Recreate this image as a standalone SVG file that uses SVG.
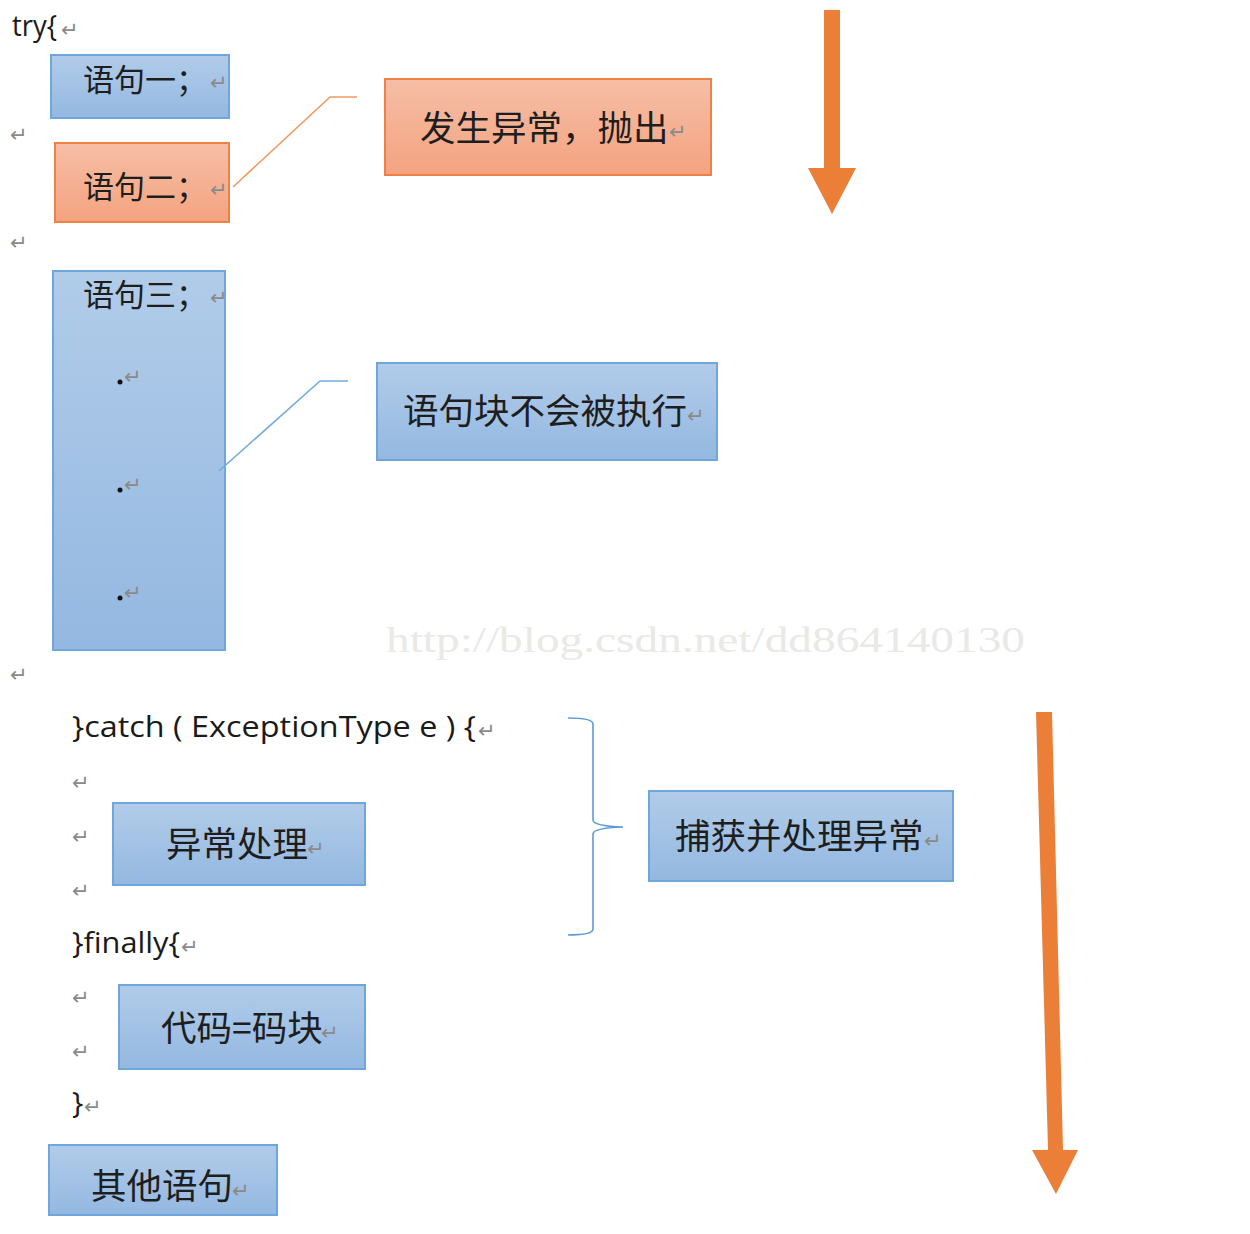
<svg xmlns="http://www.w3.org/2000/svg" width="1250" height="1234" viewBox="0 0 1250 1234">
  <defs>
    <linearGradient id="blueFill" x1="0" y1="0" x2="0" y2="1">
      <stop offset="0" stop-color="#b1cce9"/>
      <stop offset="1" stop-color="#94b8e1"/>
    </linearGradient>
    <linearGradient id="orangeFill" x1="0" y1="0" x2="0" y2="1">
      <stop offset="0" stop-color="#f6bea6"/>
      <stop offset="1" stop-color="#f4a380"/>
    </linearGradient>
    <style>
      .blue { fill: url(#blueFill); stroke: #6fa6dc; stroke-width: 2; }
      .orange { fill: url(#orangeFill); stroke: #ee8245; stroke-width: 2; }
      .code { font-family: "Open Sans", "Liberation Sans", "Noto Sans CJK SC", sans-serif; font-size: 30px; fill: #1a1a1a; }
      .cjk { font-family: "Noto Sans CJK SC", sans-serif; fill: #1e1e1e; }
      .big { font-size: 35.5px; }
      .mid { font-size: 31px; }
      .ret { font-family: "DejaVu Sans", "Noto Sans CJK SC", sans-serif; font-size: 21px; fill: #8a8a8a; }
      .callout { fill: none; stroke-width: 1.6; }
      .arrow { fill: #ec7f38; }
    </style>
  </defs>

  <!-- plain code lines and paragraph marks -->
  <g id="code-lines">
    <text class="code" x="12" y="36" textLength="45" lengthAdjust="spacingAndGlyphs">try{</text>
    <text class="ret" x="61" y="37">↵</text>
    <text class="ret" x="10" y="142">↵</text>
    <text class="ret" x="10" y="250">↵</text>
    <text class="ret" x="10" y="682">↵</text>
    <text class="code" x="72" y="737" textLength="404" lengthAdjust="spacingAndGlyphs">}catch ( ExceptionType e ) {</text>
    <text class="ret" x="478" y="738">↵</text>
    <text class="ret" x="72" y="790">↵</text>
    <text class="ret" x="72" y="844">↵</text>
    <text class="ret" x="72" y="898">↵</text>
    <text class="code" x="72" y="953" textLength="108" lengthAdjust="spacingAndGlyphs">}finally{</text>
    <text class="ret" x="181" y="954">↵</text>
    <text class="ret" x="72" y="1005">↵</text>
    <text class="ret" x="72" y="1059">↵</text>
    <text class="code" x="72" y="1113">}</text>
    <text class="ret" x="84" y="1114">↵</text>
  </g>

  <g id="stmt1">
    <rect class="blue" x="51" y="55" width="178" height="63"/>
    <text class="cjk mid" x="83" y="91">语句一；</text>
    <text class="ret" x="210" y="90">↵</text>
  </g>

  <g id="stmt2">
    <rect class="orange" x="55" y="143" width="174" height="79"/>
    <text class="cjk mid" x="83" y="198">语句二；</text>
    <text class="ret" x="210" y="197">↵</text>
  </g>

  <g id="stmt3">
    <rect class="blue" x="53" y="271" width="172" height="379"/>
    <text class="cjk mid" x="83" y="306">语句三；</text>
    <text class="ret" x="210" y="305">↵</text>
    <circle cx="120" cy="382" r="2.5" fill="#111"/>
    <text class="ret" x="124" y="384">↵</text>
    <circle cx="120" cy="490" r="2.5" fill="#111"/>
    <text class="ret" x="124" y="492">↵</text>
    <circle cx="120" cy="598" r="2.5" fill="#111"/>
    <text class="ret" x="124" y="600">↵</text>
  </g>

  <g id="thrown">
    <rect class="orange" x="385" y="79" width="326" height="96"/>
    <text class="cjk big" x="420" y="141">发生异常，抛出</text>
    <text class="ret" x="669" y="139">↵</text>
  </g>

  <g id="skipped">
    <rect class="blue" x="377" y="363" width="340" height="97"/>
    <text class="cjk big" x="403" y="424">语句块不会被执行</text>
    <text class="ret" x="687" y="423">↵</text>
  </g>

  <g id="handler">
    <rect class="blue" x="113" y="803" width="252" height="82"/>
    <text class="cjk big" x="166" y="857">异常处理</text>
    <text class="ret" x="307" y="856">↵</text>
  </g>

  <g id="catch-note">
    <rect class="blue" x="649" y="791" width="304" height="90"/>
    <text class="cjk big" x="675" y="849">捕获并处理异常</text>
    <text class="ret" x="924" y="848">↵</text>
  </g>

  <g id="finally-block">
    <rect class="blue" x="119" y="985" width="246" height="84"/>
    <text class="cjk big" x="161" y="1041">代码=码块</text>
    <text class="ret" x="321" y="1040">↵</text>
  </g>

  <g id="other">
    <rect class="blue" x="49" y="1145" width="228" height="70"/>
    <text class="cjk big" x="91" y="1199">其他语句</text>
    <text class="ret" x="232" y="1198">↵</text>
  </g>

  <!-- callout lines, brace and flow arrows -->
  <g id="connectors">
    <polyline class="callout" stroke="#f19a62" points="233,187 330,97 357,97"/>
    <polyline class="callout" stroke="#74abdf" points="219,471 320,381 348,381"/>
    <path class="callout" stroke="#5b9bd5" stroke-width="2"
          d="M568,718 Q593,718 593,724 L593,820 Q593,826 623,827 Q593,828 593,834 L593,929 Q593,935 568,935"/>
    <polygon class="arrow" points="824,10 840,10 840,168 856,168 832,214 808,168 824,168"/>
    <polygon class="arrow" points="1036,712 1052,712 1063,1150 1078,1150 1056,1194 1032,1150 1048,1150"/>
  </g>

  <text x="386" y="652" textLength="639" lengthAdjust="spacingAndGlyphs"
        font-family="Liberation Serif, serif" font-size="36" fill="#e9e9e6">http://blog.csdn.net/dd864140130</text>
</svg>
